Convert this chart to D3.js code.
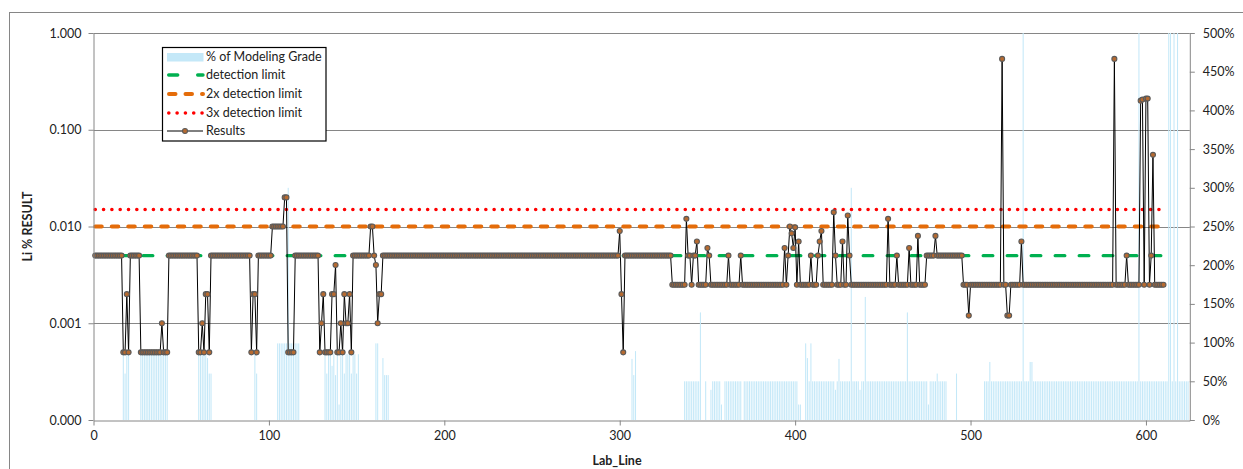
<!DOCTYPE html>
<html>
<head>
<meta charset="utf-8">
<script src="https://cdn.jsdelivr.net/npm/d3@7"></script>
<style>
  body { margin: 0; background: #fff; }
  svg { display: block; font-family: Lato, "Liberation Sans", sans-serif; }
</style>
</head>
<body>
<svg id="chart" width="1243" height="469"></svg>
<script>
// Li % result per lab line, as [value, number of consecutive lines], starting at line 1
const resultRuns = [
  [0.005,16],[0.0005,2],[0.002,1],[0.0005,1],[0.005,6],[0.0005,12],[0.001,1],[0.0005,3],
  [0.005,17],[0.0005,2],[0.001,1],[0.0005,1],[0.002,2],[0.0005,1],[0.005,23],[0.0005,1],
  [0.002,2],[0.0005,1],[0.005,8],[0.01,7],[0.02,2],[0.0005,4],[0.005,14],[0.0005,1],
  [0.001,1],[0.002,1],[0.0005,4],[0.002,2],[0.004,1],[0.0005,2],[0.001,1],[0.0005,1],
  [0.002,1],[0.001,2],[0.002,1],[0.0005,1],[0.005,10],[0.01,2],[0.005,1],[0.004,1],
  [0.001,1],[0.002,2],[0.005,135],[0.009,1],[0.002,1],[0.0005,1],[0.005,27],[0.0025,8],
  [0.012,1],[0.005,2],[0.0025,1],[0.005,2],[0.007,1],[0.0025,5],[0.006,1],[0.005,1],
  [0.0025,10],[0.005,1],[0.0025,6],[0.005,1],[0.0025,24],[0.006,1],[0.0025,1],[0.005,1],
  [0.01,1],[0.0085,1],[0.006,1],[0.0098,1],[0.0025,1],[0.007,1],[0.0025,6],[0.005,1],
  [0.0025,3],[0.005,1],[0.007,1],[0.009,1],[0.0025,6],[0.014,1],[0.005,1],[0.0025,3],
  [0.007,1],[0.0025,2],[0.013,1],[0.005,1],[0.0025,21],[0.012,1],[0.0025,4],[0.005,1],
  [0.0025,6],[0.006,1],[0.0025,4],[0.008,1],[0.0025,4],[0.005,5],[0.008,1],[0.005,15],
  [0.0025,3],[0.0012,1],[0.0025,18],[0.54,1],[0.0025,2],[0.0012,2],[0.0025,6],[0.007,1],
  [0.0025,52],[0.54,1],[0.0025,6],[0.005,1],[0.0025,7],[0.2,1],[0.205,1],[0.0025,1],
  [0.21,2],[0.0025,1],[0.005,1],[0.055,1],[0.0025,6]
];
const firstLine = 1;

// % of modeling grade, as [first lab line, value %, number of consecutive lines]
const gradeRuns = [
  [17,85,1],[18,60,1],[19,85,2],
  [27,85,16],
  [60,85,5],[65,80,1],[66,60,2],
  [92,86,1],[93,60,1],
  [105,99,6],[111,300,1],[112,99,6],
  [132,85,1],[133,60,1],[134,85,2],[136,70,1],[137,85,1],[138,58,1],[139,85,1],[140,20,1],
  [141,85,2],[143,60,1],[144,85,3],[147,60,1],[148,85,2],[150,60,1],[151,85,1],
  [161,99,2],[165,80,1],[166,58,3],
  [307,79,1],[308,58,1],[309,89,1],
  [337,50,9],[346,139,1],[349,50,1],[352,39,1],[353,50,5],[358,20,1],[360,50,10],
  [371,50,31],[402,20,2],[406,99,1],[407,80,1],[408,50,1],[409,99,1],
  [410,50,13],[423,39,1],[424,50,1],[425,79,1],[426,50,6],[432,300,1],[433,50,4],
  [437,39,1],[438,50,2],[440,159,1],[441,50,23],[464,139,1],[465,50,11],[476,20,1],
  [477,50,4],[481,60,1],[482,50,5],[492,60,1],
  [508,50,3],[511,75,1],[512,50,18],[530,500,1],[531,50,3],[534,75,2],[536,50,60],
  [596,500,1],[597,50,16],[613,500,2],[615,50,1],[616,500,1],[617,50,1],[618,500,1],
  [619,50,6]
];

const detectionLimit = 0.005;
const limitMultiples = [1, 2, 3];

const xTicks = [0, 100, 200, 300, 400, 500, 600];
const yTicks = [1, 0.1, 0.01, 0.001, 0.0001];
const yTickLabels = ["1.000", "0.100", "0.010", "0.001", "0.000"];
const pctTicks = [0, 50, 100, 150, 200, 250, 300, 350, 400, 450, 500];

const legendLabels = ["% of Modeling Grade", "detection limit", "2x detection limit", "3x detection limit", "Results"];

// ---- expand runs into per-line records ----
const results = [];
{
  let line = firstLine;
  resultRuns.forEach(([v, n]) => { for (let k = 0; k < n; k++) results.push({ line: line++, value: v }); });
}
const grades = [];
gradeRuns.forEach(([start, v, n]) => { for (let k = 0; k < n; k++) grades.push({ line: start + k, value: v }); });
const lineExtent = d3.extent(results, d => d.line);

// ---- layout ----
const svg = d3.select("#chart");
const L = 93.5, R = 1189.8, T = 33, B = 420;
const gray = "#868686";
const barColor = "#c4e8f8";
const markerFill = "#b66a30", markerStroke = "#5a5a5a";

const x = d3.scaleLinear().domain([0, 625]).range([L, R]);
const y = d3.scaleLog().domain([0.0001, 1]).range([B, T]);
const yPct = d3.scaleLinear().domain([0, 500]).range([B, T]);

// chart area border
svg.append("rect").attr("x", 9.5).attr("y", 12.5).attr("width", 1245).attr("height", 470)
  .attr("fill", "none").attr("stroke", gray).attr("stroke-width", 1);

svg.append("defs").append("clipPath").attr("id", "plotClip")
  .append("rect").attr("x", L).attr("y", T).attr("width", R - L).attr("height", B - T);

// horizontal gridlines at the log decades
svg.append("g").selectAll("line").data(yTicks.slice(0, 4)).join("line")
  .attr("x1", L).attr("x2", R)
  .attr("y1", d => Math.round(y(d)) + 0.5).attr("y2", d => Math.round(y(d)) + 0.5)
  .attr("stroke", gray).attr("stroke-width", 1);

// % of modeling grade bars (secondary axis)
const barW = 1.05;
svg.append("g").attr("clip-path", "url(#plotClip)")
  .selectAll("rect").data(grades).join("rect")
  .attr("x", d => x(d.line) - barW / 2)
  .attr("width", barW)
  .attr("y", d => yPct(d.value))
  .attr("height", d => B - yPct(d.value))
  .attr("fill", barColor);

// detection limit reference lines
const limitStyles = [
  { color: "#00b050", width: 3.4, dash: "9.5,14.5", cap: "round" },
  { color: "#e46c0a", width: 4, dash: "6.5,10", cap: "round" },
  { color: "#ff0000", width: 3.6, dash: "0.01,8.3", cap: "round" }
];
const limitLine = d3.line().x(d => x(d[0])).y(d => y(d[1]));
const gLimits = svg.append("g");
limitMultiples.forEach((m, i) => {
  const s = limitStyles[i];
  gLimits.append("path")
    .datum([[lineExtent[0], detectionLimit * m], [lineExtent[1], detectionLimit * m]])
    .attr("d", limitLine)
    .attr("fill", "none").attr("stroke", s.color).attr("stroke-width", s.width)
    .attr("stroke-dasharray", s.dash).attr("stroke-linecap", s.cap);
});

// results line + markers
const resLine = d3.line().x(d => x(d.line)).y(d => y(d.value));
svg.append("path").datum(results).attr("d", resLine)
  .attr("fill", "none").attr("stroke", "#000").attr("stroke-width", 1);
svg.append("g").selectAll("circle").data(results).join("circle")
  .attr("cx", d => x(d.line)).attr("cy", d => y(d.value)).attr("r", 2.5)
  .attr("fill", markerFill).attr("stroke", markerStroke).attr("stroke-width", 1.1);

// axes
function styleAxis(g) {
  g.selectAll(".domain").attr("stroke", gray);
  g.selectAll(".tick line").attr("stroke", gray);
  g.selectAll(".tick text").attr("fill", "#222").style("font-size", "12.5px")
    .style("font-family", "Lato, 'Liberation Sans', sans-serif");
}
svg.append("g").attr("transform", `translate(${L},0)`)
  .call(d3.axisLeft(y).tickValues(yTicks).tickFormat((d, i) => yTickLabels[i]).tickSize(5).tickSizeOuter(0).tickPadding(7))
  .call(styleAxis);
svg.append("g").attr("transform", `translate(${R},0)`)
  .call(d3.axisRight(yPct).tickValues(pctTicks).tickFormat(d => d + "%").tickSize(5).tickSizeOuter(0).tickPadding(8))
  .call(styleAxis);
svg.append("g").attr("transform", `translate(0,${B + 0.5})`)
  .call(d3.axisBottom(x).tickValues(xTicks).tickFormat(d3.format("d")).tickSize(5).tickSizeOuter(0).tickPadding(6))
  .call(styleAxis);

// axis titles
svg.append("text").attr("x", 617).attr("y", 465).attr("text-anchor", "middle")
  .style("font-size", "12.5px").style("font-weight", "bold").attr("fill", "#222").text("Lab_Line");
svg.append("text").attr("transform", `translate(32,${(T + B) / 2}) rotate(-90)`).attr("text-anchor", "middle")
  .style("font-size", "12.5px").style("font-weight", "bold").attr("fill", "#222").text("Li % RESULT");

// legend
const lg = svg.append("g");
lg.append("rect").attr("x", 162.5).attr("y", 47.5).attr("width", 163.5).attr("height", 93.5)
  .attr("fill", "#fff").attr("stroke", "#000").attr("stroke-width", 1.2);
const rowY = [57, 75, 94, 113, 131];
const sx0 = 167, sx1 = 203;
lg.append("rect").attr("x", sx0).attr("y", rowY[0] - 4).attr("width", sx1 - sx0 + 0.5).attr("height", 8.5).attr("fill", barColor);
limitStyles.forEach((s, i) => {
  lg.append("line").attr("x1", sx0 + s.width / 2).attr("x2", sx1).attr("y1", rowY[i + 1]).attr("y2", rowY[i + 1])
    .attr("stroke", s.color).attr("stroke-width", s.width)
    .attr("stroke-dasharray", i === 0 ? "9,20" : s.dash).attr("stroke-linecap", s.cap);
});
lg.append("line").attr("x1", sx0).attr("x2", sx1).attr("y1", rowY[4]).attr("y2", rowY[4]).attr("stroke", "#000");
lg.append("circle").attr("cx", (sx0 + sx1) / 2).attr("cy", rowY[4]).attr("r", 2.5)
  .attr("fill", markerFill).attr("stroke", markerStroke).attr("stroke-width", 1.1);
lg.selectAll("text").data(legendLabels).join("text")
  .attr("x", 206).attr("y", (d, i) => rowY[i]).attr("dy", "0.35em")
  .style("font-size", "12.5px").attr("fill", "#222").text(d => d);
</script>
</body>
</html>
